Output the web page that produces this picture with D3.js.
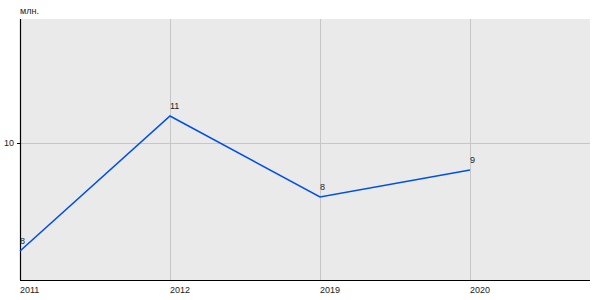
<!DOCTYPE html>
<html>
<head>
<meta charset="utf-8">
<script src="https://cdn.jsdelivr.net/npm/d3@7"></script>
<style>
  body { margin: 0; background: #fff; }
  text { font-family: "Liberation Sans", Arial, sans-serif; }
</style>
</head>
<body>
<div id="chart"></div>
<script>
var years = ['2011', '2012', '2019', '2020'];
var values = [6, 11, 8, 9];
var pointLabels = ['8', '11', '8', '9'];
var yTicks = [10];
var unitLabel = 'млн.';

var W = 600, H = 300;
var margin = {left: 20, top: 19, right: 10, bottom: 20};
var plotW = W - margin.left - margin.right,
    plotH = H - margin.top - margin.bottom;

var svg = d3.select('#chart')
    .append('svg')
        .attr('width', W)
        .attr('height', H);

var g = svg.append('g')
    .attr('transform', 'translate(' + margin.left + ',' + margin.top + ')');

// categories sit 150px apart, starting at the axis
var scaleX = d3.scaleLinear().domain([0, 3.8]).range([0, plotW]);
var scaleY = d3.scaleLinear().domain([4.926, 14.593]).range([plotH, 0]);

g.append('rect')
    .attr('width', plotW)
    .attr('height', plotH)
    .attr('fill', '#eaeaea');

// grid
g.append('g')
    .selectAll('line')
    .data(years.slice(1))
    .join('line')
        .attr('x1', function(d, i) { return Math.round(scaleX(i + 1)) + 0.5; })
        .attr('x2', function(d, i) { return Math.round(scaleX(i + 1)) + 0.5; })
        .attr('y1', 0)
        .attr('y2', plotH)
        .attr('stroke', '#c6c6c6');

g.append('g')
    .selectAll('line')
    .data(yTicks)
    .join('line')
        .attr('x1', 0)
        .attr('x2', plotW)
        .attr('y1', function(d) { return Math.round(scaleY(d)) + 0.5; })
        .attr('y2', function(d) { return Math.round(scaleY(d)) + 0.5; })
        .attr('stroke', '#c6c6c6');

// axes
var axisY = d3.axisLeft(scaleY).tickValues(yTicks).tickSize(3).tickPadding(3);
var $y = g.append('g').call(axisY);
$y.select('.domain').remove();
$y.selectAll('text').attr('fill', '#222').style('font-size', '9px')
    .style('font-family', '"Liberation Sans", Arial, sans-serif');
$y.selectAll('line').attr('stroke', '#000');

g.append('line')
    .attr('x1', 0.5).attr('x2', 0.5)
    .attr('y1', 0).attr('y2', plotH)
    .attr('stroke', '#000').attr('stroke-width', 1.2);
g.append('line')
    .attr('x1', 0).attr('x2', plotW)
    .attr('y1', plotH + 0.5).attr('y2', plotH + 0.5)
    .attr('stroke', '#000').attr('stroke-width', 1.2);

g.append('g')
    .selectAll('text')
    .data(years)
    .join('text')
        .attr('x', function(d, i) { return scaleX(i); })
        .attr('y', plotH + 13)
        .attr('fill', '#222')
        .style('font-size', '9px')
        .text(function(d) { return d; });

svg.append('text')
    .attr('x', 20)
    .attr('y', 14)
    .attr('fill', '#222')
    .style('font-size', '9px')
    .text(unitLabel);

// line
var line = d3.line()
    .x(function(d, i) { return scaleX(i); })
    .y(function(d) { return scaleY(d); });

g.append('path')
    .datum(values)
    .attr('d', line)
    .attr('fill', 'none')
    .attr('stroke', '#0050e6')
    .attr('stroke-width', 1.6);

g.append('g')
    .selectAll('text')
    .data(values)
    .join('text')
        .attr('x', function(d, i) { return scaleX(i); })
        .attr('y', function(d) { return scaleY(d) - 7; })
        .attr('fill', '#222')
        .style('font-size', '9px')
        .text(function(d, i) { return pointLabels[i]; });
</script>
</body>
</html>
